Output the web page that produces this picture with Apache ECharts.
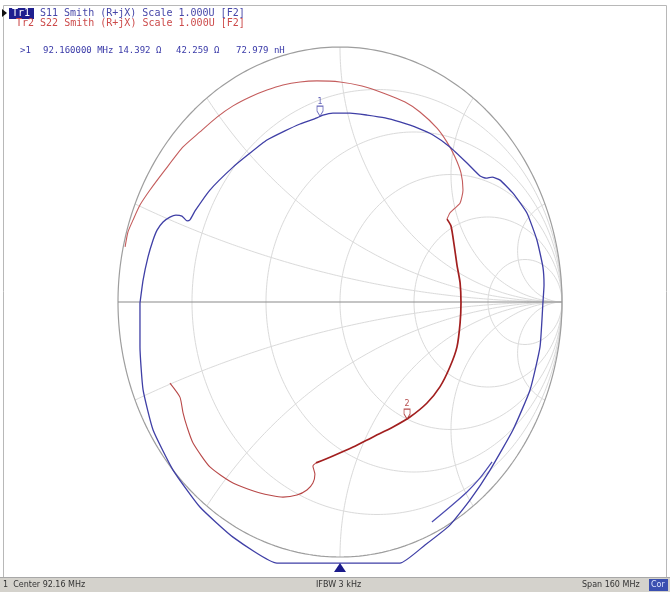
<!DOCTYPE html>
<html><head><meta charset="utf-8">
<script src="https://cdn.jsdelivr.net/npm/echarts@6/dist/echarts.min.js"></script>
<style>html,body{margin:0;padding:0;background:#fff}#c{width:670px;height:592px}</style>
</head><body><div id="c"></div>
<script>
// Smith chart grid values (normalized resistance / reactance)
const resistanceValues = [0.2, 0.5, 1, 2, 5];
const reactanceValues = [0.2, 0.5, 1, 2, 5];

// S11 trace, reflection coefficient [Re, Im]
const s11Loop = [
  [-0.901,-0.004],[-0.887,0.086],[-0.865,0.176],[-0.842,0.243],[-0.824,0.282],[-0.797,0.314],
  [-0.766,0.333],[-0.739,0.341],[-0.712,0.337],[-0.689,0.318],[-0.676,0.322],[-0.653,0.357],
  [-0.586,0.439],[-0.482,0.529],[-0.405,0.584],[-0.329,0.635],[-0.248,0.671],[-0.180,0.698],
  [-0.104,0.722],[-0.077,0.733],[-0.032,0.741],[0.045,0.741],[0.122,0.733],[0.203,0.722],
  [0.270,0.706],[0.351,0.682],[0.419,0.655],[0.495,0.608],[0.572,0.545],[0.631,0.494],
  [0.658,0.486],[0.685,0.490],[0.721,0.478],[0.779,0.427],[0.842,0.349],[0.887,0.243],
  [0.914,0.137],[0.919,0.067],[0.914,-0.004],[0.901,-0.176],[0.856,-0.345],[0.779,-0.502],
  [0.676,-0.659],[0.586,-0.776],[0.495,-0.875],[0.383,-0.953],[0.270,-1.024],[-0.284,-1.024],
  [-0.482,-0.922],[-0.631,-0.804],[-0.752,-0.659],[-0.842,-0.502],
  [-0.887,-0.345],[-0.901,-0.176],[-0.901,-0.004]
];
const s11Tail = [[0.414,-0.863],[0.495,-0.804],[0.572,-0.745],[0.631,-0.690],[0.685,-0.627]];

// S22 trace
const s22Upper = [
  [-0.968,0.216],[-0.955,0.275],[-0.932,0.322],[-0.901,0.380],[-0.856,0.439],[-0.788,0.518],
  [-0.707,0.608],[-0.631,0.667],[-0.554,0.725],[-0.482,0.769],[-0.405,0.804],[-0.329,0.831],
  [-0.257,0.851],[-0.180,0.863],[-0.104,0.867],[0.000,0.863],[0.099,0.847],[0.194,0.820],
  [0.293,0.784],[0.360,0.745],[0.437,0.682],[0.482,0.627],[0.518,0.569],[0.545,0.506],
  [0.554,0.439],[0.541,0.388],[0.514,0.365],[0.495,0.349],[0.482,0.325]
];
const s22Middle = [
  [0.482,0.325],[0.500,0.298],[0.514,0.224],[0.527,0.145],[0.541,0.075],[0.545,-0.004],
  [0.541,-0.082],[0.527,-0.176],[0.495,-0.255],[0.450,-0.333],[0.392,-0.396],[0.315,-0.451],
  [0.239,-0.490],[0.149,-0.529],[0.059,-0.569],[-0.032,-0.604],[-0.108,-0.631]
];
const s22Lower = [
  [-0.108,-0.631],[-0.122,-0.643],[-0.113,-0.675],[-0.122,-0.710],[-0.149,-0.737],[-0.194,-0.757],
  [-0.257,-0.765],[-0.360,-0.749],[-0.482,-0.710],[-0.586,-0.647],[-0.662,-0.553],[-0.689,-0.490],
  [-0.707,-0.435],[-0.721,-0.373],[-0.766,-0.318]
];

const marker1 = [-0.090, 0.729];
const marker2 = [0.302, -0.459];

const header1 = 'S11 Smith (R+jX) Scale 1.000U [F2]';
const header2 = 'Tr2 S22 Smith (R+jX) Scale 1.000U [F2]';
const readout = ['>1', '92.160000 MHz', '14.392 \u03A9', '42.259 \u03A9', '72.979 nH'];
const statusTexts = ['1  Center 92.16 MHz', 'IFBW 3 kHz', 'Span 160 MHz', 'Cor'];

// ---- build grid geometry ----
function gamma(r, x) { const D = (r + 1) * (r + 1) + x * x; return [(r * r + x * x - 1) / D, 2 * x / D]; }
const gridSeries = [];
resistanceValues.forEach(r => {
  const c = r / (r + 1), rho = 1 / (r + 1), pts = [];
  for (let i = 0; i <= 360; i++) { const a = i * Math.PI / 180; pts.push([c + rho * Math.cos(a), rho * Math.sin(a)]); }
  gridSeries.push(pts);
});
reactanceValues.forEach(x => {
  [x, -x].forEach(xx => {
    const pts = [];
    for (let i = 0; i < 400; i++) { const t = i / 400 * Math.PI / 2; pts.push(gamma(Math.tan(t), xx)); }
    pts.push([1, 0]);
    gridSeries.push(pts);
  });
});
const unitCircle = [];
for (let i = 0; i <= 360; i++) { const a = i * Math.PI / 180; unitCircle.push([Math.cos(a), Math.sin(a)]); }

function lineSeries(data, color, width, z, smooth) {
  return { type: 'line', data, showSymbol: false, silent: true, animation: false, z: z || 2,
    smooth: smooth || false, lineStyle: { color, width }, clip: false };
}
const series = [];
gridSeries.forEach(d => series.push(lineSeries(d, '#dadada', 1, 1)));
series.push(lineSeries(unitCircle, '#9e9e9e', 1.2, 1));
series.push(lineSeries([[-1, 0], [1, 0]], '#8a8a8a', 1.2, 1));
series.push(lineSeries(s22Upper, '#c45c5c', 1.1, 3, 0.2));
series.push(lineSeries(s22Middle, '#a21f1f', 1.7, 3, 0.2));
series.push(lineSeries(s22Lower, '#b84848', 1.1, 3, 0.2));
series.push(lineSeries(s11Loop, '#3f3fa6', 1.3, 4, 0.15));
series.push(lineSeries(s11Tail, '#4a4ab0', 1.2, 4, 0.2));
const pin = 'path://M0,0 L6,0 L6,5 L3,10 L0,5 Z';
series.push({ type: 'scatter', data: [marker1], symbol: pin, symbolSize: [6, 10], symbolOffset: [0, -5], z: 5, silent: true,
  itemStyle: { color: 'rgba(255,255,255,0.9)', borderColor: '#3f3fa6', borderWidth: 1 },
  label: { show: true, formatter: '1', position: 'top', distance: 0, fontSize: 8, color: '#3f3fa6', fontFamily: 'DejaVu Sans' } });
series.push({ type: 'scatter', data: [marker2], symbol: pin, symbolSize: [6, 10], symbolOffset: [0, -5], z: 5, silent: true,
  itemStyle: { color: 'rgba(255,255,255,0.9)', borderColor: '#a21f1f', borderWidth: 1 },
  label: { show: true, formatter: '2', position: 'top', distance: 0, fontSize: 8, color: '#a21f1f', fontFamily: 'DejaVu Sans' } });

const mono = 'DejaVu Sans Mono';
const readoutX = [20, 43, 118, 176, 236];
const graphic = [
  { type: 'rect', shape: { x: 3.5, y: 5.5, width: 663, height: 572 }, style: { fill: 'none', stroke: '#b8b8b8', lineWidth: 1 }, z: 0 },
  { type: 'polygon', shape: { points: [[2, 9], [2, 17], [7, 13]] }, style: { fill: '#111' } },
  { type: 'rect', shape: { x: 9, y: 8, width: 25, height: 11 }, style: { fill: '#1f1f8f' } },
  { type: 'text', x: 12, y: 13.5, style: { text: 'Tr1', fill: '#fff', font: '10px ' + mono, textVerticalAlign: 'middle' } },
  { type: 'text', x: 40, y: 13.5, style: { text: header1, fill: '#4646a8', font: '10px ' + mono, textVerticalAlign: 'middle' } },
  { type: 'text', x: 16, y: 23, style: { text: header2, fill: '#cc4a4a', font: '10px ' + mono, textVerticalAlign: 'middle' } },
  { type: 'polygon', shape: { points: [[334, 572], [346, 572], [340, 563]] }, style: { fill: '#1a1a8a' }, z: 10 },
  { type: 'rect', shape: { x: 0, y: 578, width: 670, height: 14 }, style: { fill: '#d4d2cc' }, z: 10 },
  { type: 'line', shape: { x1: 0, y1: 577.5, x2: 670, y2: 577.5 }, style: { stroke: '#a8a8a8', lineWidth: 1 }, z: 10 },
  { type: 'text', x: 3, y: 585, style: { text: statusTexts[0], fill: '#333', font: '8px DejaVu Sans', textVerticalAlign: 'middle' }, z: 11 },
  { type: 'text', x: 316, y: 585, style: { text: statusTexts[1], fill: '#333', font: '8px DejaVu Sans', textVerticalAlign: 'middle' }, z: 11 },
  { type: 'text', x: 582, y: 585, style: { text: statusTexts[2], fill: '#333', font: '8px DejaVu Sans', textVerticalAlign: 'middle' }, z: 11 },
  { type: 'rect', shape: { x: 649, y: 579, width: 19, height: 12 }, style: { fill: '#3a4fb0' }, z: 11 },
  { type: 'text', x: 651, y: 585, style: { text: statusTexts[3], fill: '#dfe6ff', font: '8px DejaVu Sans', textVerticalAlign: 'middle' }, z: 12 }
];
readout.forEach((t, i) => graphic.push({ type: 'text', x: readoutX[i], y: 51, style: { text: t, fill: '#3a3aa8', font: '9px ' + mono, textVerticalAlign: 'middle' } }));

const chart = echarts.init(document.getElementById('c'), null, { renderer: 'canvas' });
chart.setOption({
  backgroundColor: '#ffffff',
  animation: false,
  grid: { left: 95.8, right: 85.8, top: 21.5, bottom: 9.5 },
  xAxis: { type: 'value', min: -1.1, max: 1.1, show: false },
  yAxis: { type: 'value', min: -1.1, max: 1.1, show: false },
  series,
  graphic
});
</script></body></html>
